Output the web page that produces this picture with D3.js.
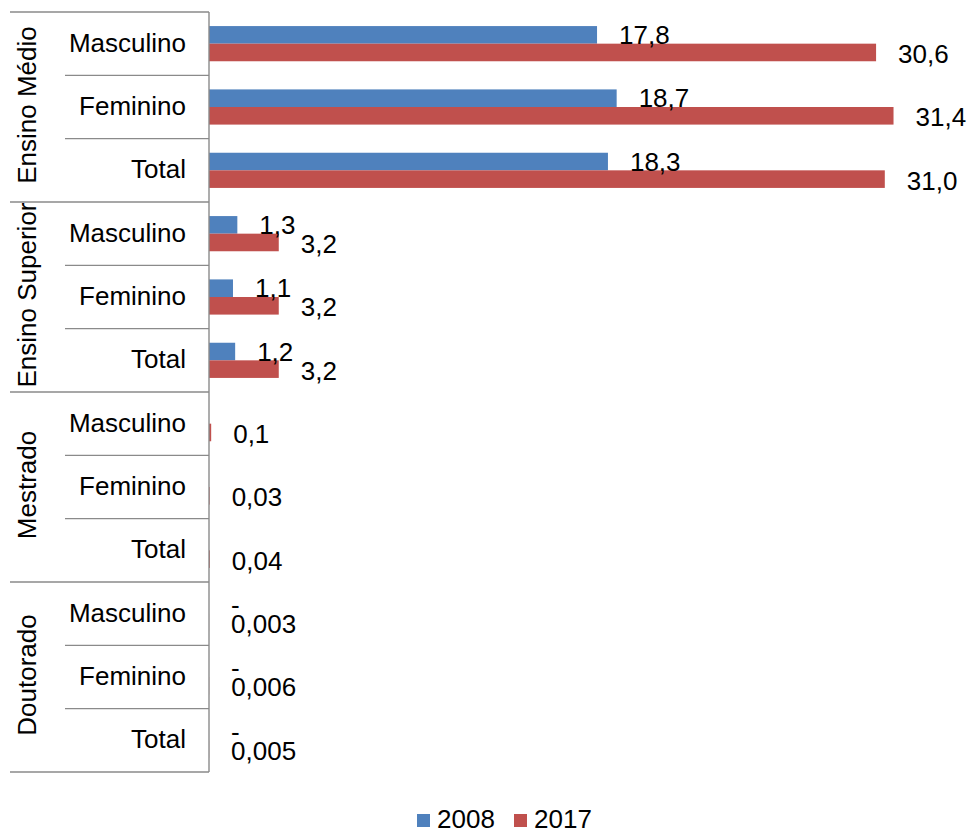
<!DOCTYPE html>
<html>
<head>
<meta charset="utf-8">
<script src="https://cdn.jsdelivr.net/npm/d3@7"></script>
<style>
  body { margin: 0; background: #fff; }
  svg { display: block; font-family: "Liberation Sans", Arial, sans-serif; }
</style>
</head>
<body>
<svg id="chart" width="972" height="832"></svg>
<script>
// chart data
const groups = ['Ensino Médio', 'Ensino Superior', 'Mestrado', 'Doutorado'];
const subgroups = ['Masculino', 'Feminino', 'Total'];
const series = ['2008', '2017'];
// null = no label shown, 0 = shown as "-"
const values2008 = [17.8, 18.7, 18.3, 1.3, 1.1, 1.2, null, null, null, 0, 0, 0];
const values2017 = [30.6, 31.4, 31.0, 3.2, 3.2, 3.2, 0.1, 0.03, 0.04, 0.003, 0.006, 0.005];
const colors = ['#4F81BD', '#C0504D'];

const axisX = 209, plotTop = 12, plotBottom = 772;
const fontSize = 26;
const lineColor = '#8a8a8a';

const rows = [];
groups.forEach((g, gi) => {
  subgroups.forEach((s, si) => {
    let i = gi * subgroups.length + si;
    rows.push({ id: i, group: g, sub: s, values: [values2008[i], values2017[i]] });
  });
});

const svg = d3.select('#chart');

let x = d3.scaleLinear().domain([0, 35]).range([axisX, 972]);
let y0 = d3.scaleBand().domain(rows.map(d => d.id)).range([plotTop, plotBottom]);
let y1 = d3.scaleBand().domain(series).range([0, y0.bandwidth()]).paddingOuter(0.8);
let gy = d3.scaleBand().domain(groups).range([plotTop, plotBottom]);

let fmt = (v) => {
  if (v === 0) return '-';
  if (v >= 1) return d3.format('.1f')(v).replace('.', ',');
  return String(v).replace('.', ',');
};

// bars + labels
let rowG = svg.selectAll('.row')
  .data(rows)
  .enter()
  .append('g')
  .attr('class', 'row')
  .attr('transform', d => `translate(0,${y0(d.id)})`);

let cells = rowG.selectAll('.cell')
  .data(d => d.values.map((v, i) => ({ v: v, s: series[i], i: i })))
  .enter();

cells.filter(d => d.v !== null)
  .append('rect')
  .attr('x', x(0))
  .attr('y', d => y1(d.s))
  .attr('width', d => x(d.v) - x(0))
  .attr('height', y1.bandwidth())
  .attr('fill', (d) => colors[d.i]);

cells.filter(d => d.v !== null)
  .append('text')
  .attr('x', d => x(d.v) + 22)
  .attr('y', d => y1(d.s) + y1.bandwidth() / 2 + 9 + (d.i === 1 ? 1.5 : 0))
  .attr('font-size', fontSize)
  .attr('fill', '#000')
  .text(d => fmt(d.v));

// left category axis
let axis = svg.append('g').attr('stroke', lineColor).attr('stroke-width', 1.4);
axis.append('line')
  .attr('x1', axisX).attr('x2', axisX)
  .attr('y1', plotTop).attr('y2', plotBottom);

// row separators
axis.selectAll('.sep')
  .data(d3.range(rows.length + 1))
  .enter()
  .append('line')
  .attr('x1', i => (i % subgroups.length === 0) ? 10 : 65)
  .attr('x2', axisX)
  .attr('y1', i => i < rows.length ? y0(i) : plotBottom)
  .attr('y2', i => i < rows.length ? y0(i) : plotBottom);

svg.selectAll('.sublabel')
  .data(rows)
  .enter()
  .append('text')
  .attr('class', 'sublabel')
  .attr('x', 186)
  .attr('y', d => y0(d.id) + y0.bandwidth() / 2 + 8)
  .attr('text-anchor', 'end')
  .attr('font-size', fontSize)
  .text(d => d.sub);

svg.selectAll('.grouplabel')
  .data(groups)
  .enter()
  .append('text')
  .attr('class', 'grouplabel')
  .attr('transform', d => `translate(36,${gy(d) + gy.bandwidth() / 2 - 2}) rotate(-90)`)
  .attr('text-anchor', 'middle')
  .attr('font-size', fontSize)
  .text(d => d);

// legend
let legend = svg.selectAll('.legend')
  .data(series)
  .enter()
  .append('g')
  .attr('class', 'legend')
  .attr('transform', (d, i) => `translate(${417 + i * 97},814)`);
legend.append('rect')
  .attr('width', 13)
  .attr('height', 13)
  .attr('fill', (d, i) => colors[i]);
legend.append('text')
  .attr('x', 20)
  .attr('y', 14)
  .attr('font-size', fontSize)
  .text(d => d);
</script>
</body>
</html>
